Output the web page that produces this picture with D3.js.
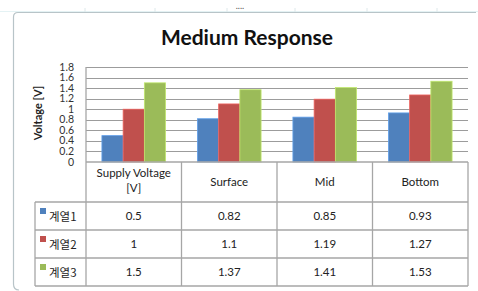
<html>
<head>
<script src="https://d3js.org/d3.v7.min.js"></script>
<style>
  body { margin: 0; background: #fff; }
  svg text { font-family: Lato, "Noto Sans", sans-serif; fill: #222; }
  .kr { font-family: "Noto Sans CJK KR", sans-serif; }
</style>
</head>
<body>
<svg id="chart" width="478" height="291"></svg>
<script>
  // chart data
  var categories = ["Supply Voltage [V]", "Surface", "Mid", "Bottom"];
  var seriesNames = ["계열1", "계열2", "계열3"];
  var series1 = [0.5, 0.82, 0.85, 0.93];
  var series2 = [1, 1.1, 1.19, 1.27];
  var series3 = [1.5, 1.37, 1.41, 1.53];
  var yTicks = [0, 0.2, 0.4, 0.6, 0.8, 1, 1.2, 1.4, 1.6, 1.8];
  var colors = ["#4f81bd", "#c0504d", "#9bbb59"];

  var allSeries = [series1, series2, series3];

  var svg = d3.select("#chart");
  var plotLeft = 86, plotRight = 468, plotTop = 67, plotBottom = 162;
  var tableLeft = 35;
  var rowY = [162, 202, 230, 258, 286];

  // faint ruler strip at the top
  svg.append("line")
    .attr("x1", 0).attr("x2", 478).attr("y1", 11.5).attr("y2", 11.5)
    .attr("stroke", "#e4f2f4");
  [85, 155, 227, 295, 367, 437].forEach(function (rx) {
    svg.append("line").attr("x1", rx).attr("x2", rx).attr("y1", 8).attr("y2", 12)
      .attr("stroke", "#dde8ea");
  });
  svg.append("text").attr("x", 240).attr("y", 9).attr("text-anchor", "middle")
    .style("font-size", "9px").style("fill", "#555").text("....");

  // outer frame
  svg.append("path")
    .attr("d", "M476,12.5 L18,12.5 Q13.5,12.5 13.5,17 L13.5,284 Q13.5,290 19,290")
    .attr("fill", "none").attr("stroke", "#b8c4c8").attr("stroke-width", 1.2);

  svg.append("text")
    .attr("x", 247).attr("y", 45).attr("text-anchor", "middle")
    .style("font-size", "21px").style("font-weight", "bold").style("fill", "#111")
    .text("Medium Response");

  var x = d3.scaleBand().domain(categories).range([plotLeft, plotRight]);
  var x1 = d3.scaleBand().domain(d3.range(3)).range([0, x.bandwidth()])
    .paddingInner(0).paddingOuter(0.75);
  var y = d3.scaleLinear().domain([0, 1.8]).range([plotBottom, plotTop]);

  // gridlines
  svg.append("g").selectAll("line").data(yTicks.slice(1)).enter().append("line")
    .attr("x1", plotLeft).attr("x2", plotRight)
    .attr("y1", function (d) { return Math.round(y(d)) + 0.5; })
    .attr("y2", function (d) { return Math.round(y(d)) + 0.5; })
    .attr("stroke", "#9c9c9c").attr("stroke-width", 1);

  // y axis labels (packed tightly, as in the original)
  svg.append("g").selectAll("text").data(yTicks).enter().append("text")
    .attr("x", 74).attr("y", function (d) { return y(d) + 3.5; })
    .attr("text-anchor", "end").style("font-size", "10.5px").style("fill", "#333")
    .text(function (d) { return d3.format("~g")(d); });

  svg.append("text")
    .attr("transform", "translate(42,113) rotate(-90)")
    .attr("text-anchor", "middle").style("font-size", "11px").style("font-weight", "bold")
    .text("Voltage [V]");

  // bars
  allSeries.forEach(function (vals, si) {
    svg.append("g").selectAll("rect").data(vals).enter().append("rect")
      .attr("x", function (d, i) { return x(categories[i]) + x1(si); })
      .attr("width", x1.bandwidth())
      .attr("y", function (d) { return y(d); })
      .attr("height", function (d) { return plotBottom - y(d); })
      .attr("fill", colors[si])
      .attr("stroke", d3.color(colors[si]).brighter(0.6))
      .attr("stroke-width", 0.8);
  });

  // data table grid
  var grid = svg.append("g").attr("stroke", "#a6a6a6").attr("stroke-width", 1.3);
  grid.append("line").attr("x1", plotLeft).attr("x2", plotLeft).attr("y1", plotTop).attr("y2", rowY[4]);
  grid.append("line").attr("x1", plotLeft).attr("x2", plotRight).attr("y1", plotBottom).attr("y2", plotBottom);
  x.domain().forEach(function (c) {
    grid.append("line").attr("x1", x(c) + x.bandwidth()).attr("x2", x(c) + x.bandwidth())
      .attr("y1", plotBottom).attr("y2", rowY[4]);
  });
  rowY.slice(1).forEach(function (ry) {
    grid.append("line").attr("x1", tableLeft).attr("x2", plotRight).attr("y1", ry).attr("y2", ry);
  });
  grid.append("line").attr("x1", tableLeft).attr("x2", tableLeft).attr("y1", rowY[1]).attr("y2", rowY[4]);

  // header row
  categories.forEach(function (c) {
    var cx = x(c) + x.bandwidth() / 2;
    var t = svg.append("text").attr("text-anchor", "middle").style("font-size", "11.5px");
    if (c === "Supply Voltage [V]") {
      t.append("tspan").attr("x", cx).attr("y", 177).text("Supply Voltage");
      t.append("tspan").attr("x", cx).attr("y", 192).text("[V]");
    } else {
      t.attr("x", cx).attr("y", 186).text(c);
    }
  });

  // value rows + legend
  allSeries.forEach(function (vals, si) {
    var cy = (rowY[si + 1] + rowY[si + 2]) / 2;
    svg.append("rect").attr("x", 40).attr("y", cy - 8).attr("width", 6).attr("height", 6)
      .attr("fill", colors[si]);
    svg.append("text").attr("class", "kr").attr("x", 49).attr("y", cy + 5)
      .style("font-size", "11.5px").style("fill", "#222").text(seriesNames[si]);
    vals.forEach(function (v, i) {
      svg.append("text").attr("x", x(categories[i]) + x.bandwidth() / 2).attr("y", cy + 4)
        .attr("text-anchor", "middle").style("font-size", "11.5px").text(v);
    });
  });
</script>
</body>
</html>
